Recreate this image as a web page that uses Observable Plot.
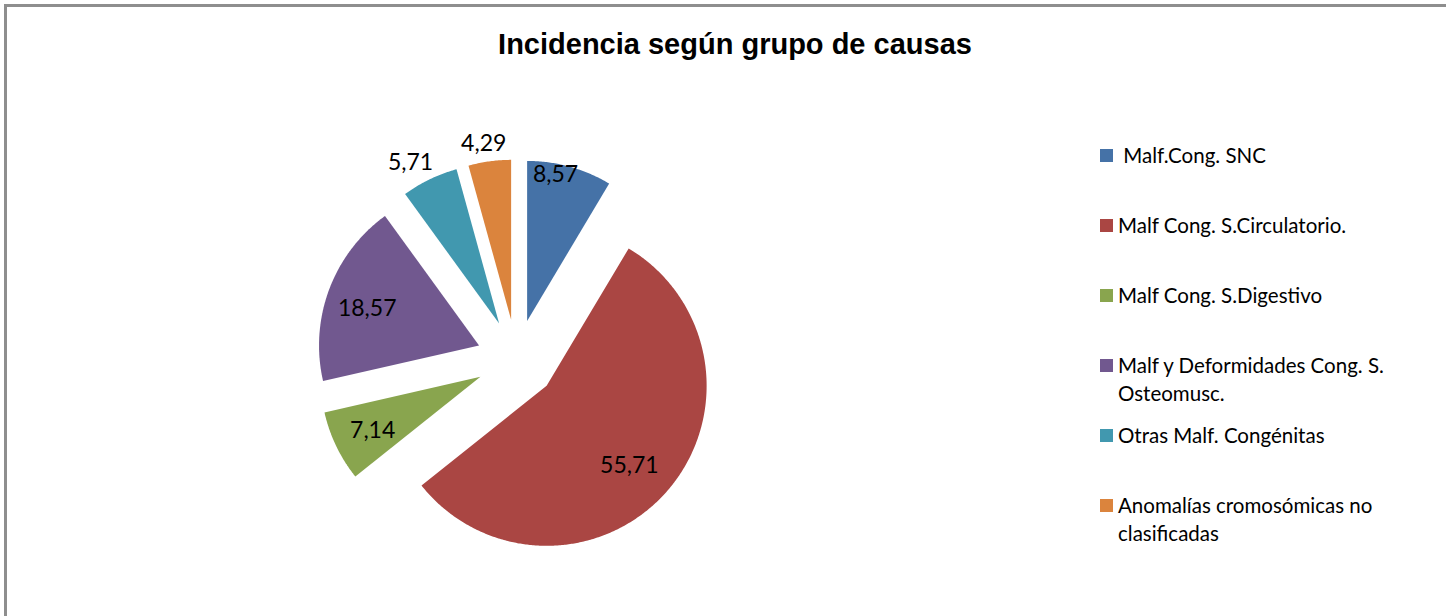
<!DOCTYPE html>
<html><head><meta charset="utf-8">
<script src="https://cdn.jsdelivr.net/npm/d3@7"></script>
<script src="https://cdn.jsdelivr.net/npm/@observablehq/plot@0.6"></script>
<style>
html,body{margin:0;padding:0;background:#fff;}
#wrap{position:relative;width:1446px;height:616px;overflow:hidden;background:#fff;}
#frame{position:absolute;left:4px;top:4px;width:1480px;height:700px;border:3px solid #8e8e8e;box-sizing:border-box;}
#chart{position:absolute;left:0;top:0;}
#title{position:absolute;left:0;width:1470px;top:28px;text-align:center;font:bold 29px "Liberation Sans",Arial,sans-serif;color:#000;}
.item{position:absolute;left:1100px;width:340px;font:20.5px Lato,sans-serif;color:#000;line-height:28px;}
.sw{position:absolute;left:0;top:8px;width:13px;height:13px;}
.tx{position:absolute;left:18px;top:0;width:300px;white-space:pre-wrap;}
</style>
</head><body>
<div id="wrap">
  <div id="frame"></div>
  <div id="chart"></div>
  <div id="title"></div>
  <div id="legend"></div>
</div>
<script>
const title = "Incidencia según grupo de causas";
const categories = [" Malf.Cong. SNC", "Malf Cong. S.Circulatorio.", "Malf Cong. S.Digestivo", "Malf y Deformidades Cong. S. Osteomusc.", "Otras Malf. Congénitas", "Anomalías cromosómicas no clasificadas"];
const values = [8.57, 55.71, 7.14, 18.57, 5.71, 4.29];
const colors = ["#4572A7", "#AA4643", "#89A54E", "#71588F", "#4198AF", "#DB843D"];

// layout
const W = 1446, H = 616;
const cx = 516, cy = 359, r = 160, explode = 40;

const arcs = d3.pie().sort(null).value(d => d)(values);
const pts = [];
const labels = [];
const fmt = v => v.toFixed(2).replace(".", ",");
const total = d3.sum(values);
arcs.forEach((a, i) => {
  const mid = (a.startAngle + a.endAngle) / 2;
  const dx = Math.sin(mid), dy = -Math.cos(mid);
  const ax = cx + explode * dx, ay = cy + explode * dy;
  pts.push({k: categories[i], x: ax, y: ay});
  const n = Math.max(2, Math.ceil((a.endAngle - a.startAngle) / (Math.PI / 360)));
  for (let j = 0; j <= n; j++) {
    const t = a.startAngle + (a.endAngle - a.startAngle) * j / n;
    pts.push({k: categories[i], x: ax + r * Math.sin(t), y: ay - r * Math.cos(t)});
  }
  pts.push({k: categories[i], x: ax, y: ay});
  // "best fit"-like label placement
  const frac = values[i] / total;
  let lx, ly;
  if (frac < 0.06) {            // too narrow: outside end
    const e = r + 8;
    lx = ax + e * dx + dx * 36; ly = ay + e * dy + dy * 10;
  } else if (frac < 0.1 && dy < 0) { // narrow slice in upper half: inside end
    lx = ax + 0.95 * r * dx - 12; ly = ay + 0.95 * r * dy;
  } else {                      // centred inside
    lx = ax + 0.72 * r * dx - 4; ly = ay + 0.72 * r * dy + 4;
  }
  labels.push({x: lx, y: ly, text: fmt(values[i])});
});

const chart = Plot.plot({
  width: W, height: H,
  margin: 0,
  x: {domain: [0, W], range: [0, W], axis: null},
  y: {domain: [0, H], range: [0, H], axis: null},
  color: {domain: categories, range: colors},
  marks: [
    Plot.line(pts, {x: "x", y: "y", z: "k", fill: "k", stroke: null, curve: "linear"}),
    Plot.text(labels, {x: "x", y: "y", text: "text", fontSize: 23, fontFamily: "Lato", fill: "#000"})
  ]
});
document.getElementById("chart").appendChild(chart);
document.getElementById("title").textContent = title;

const leg = document.getElementById("legend");
categories.forEach((c, i) => {
  const it = document.createElement("div");
  it.className = "item";
  it.style.top = (141 + 70 * i) + "px";
  const sw = document.createElement("div");
  sw.className = "sw"; sw.style.background = colors[i];
  const tx = document.createElement("div");
  tx.className = "tx"; tx.textContent = c;
  it.appendChild(sw); it.appendChild(tx);
  leg.appendChild(it);
});
</script>
</body></html>
